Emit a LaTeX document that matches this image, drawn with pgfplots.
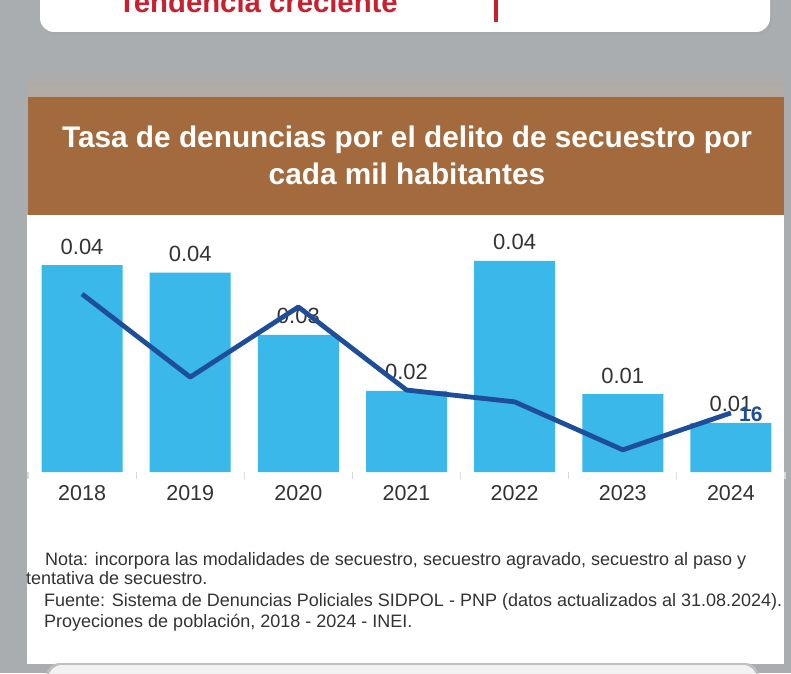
\documentclass[border=0pt]{standalone}
\usepackage{pgfplots}
\pgfplotsset{compat=1.18}
\usepackage{fontspec}
\setmainfont{Liberation Sans}
\definecolor{bggrey}{RGB}{169,173,176}
\definecolor{hdrbrown}{RGB}{162,106,61}
\definecolor{barblue}{RGB}{58,184,234}
\definecolor{lineblue}{RGB}{30,78,154}
\definecolor{txt}{RGB}{51,51,51}
\definecolor{redtxt}{RGB}{200,32,46}
\begin{document}
\begin{tikzpicture}[x=1pt,y=1pt]
\path[use as bounding box] (0,0) rectangle (791,673);
\clip (0,0) rectangle (791,673);
% background
\fill[bggrey] (0,0) rectangle (791,673);
\shade[top color=bggrey, bottom color={rgb,255:red,182;green,170;blue,163}] (28,576) rectangle (784,606);
% top card
\fill[black!35, opacity=0.5, rounded corners=14pt] (42,638) rectangle (772,700);
\fill[white, rounded corners=14pt] (40,641) rectangle (770,700);
\node[anchor=base west, inner sep=0, font=\fontsize{29.3}{29.3}\selectfont\bfseries, text=redtxt] at (118,660) {Tendencia creciente};
\fill[redtxt] (494,651) rectangle (498,673);
% header
\fill[hdrbrown] (28,458) rectangle (784,576);
\node[anchor=base, inner sep=0, font=\fontsize{29.8}{29.8}\selectfont\bfseries, text=white] at (407,525) {Tasa de denuncias por el delito de secuestro por};
\node[anchor=base, inner sep=0, font=\fontsize{29.8}{29.8}\selectfont\bfseries, text=white] at (407,488) {cada mil habitantes};
% panel
\fill[white] (27,9) rectangle (784,458);
% bottom card
\fill[black!25, rounded corners=14pt] (46,-30) rectangle (759,10);
\fill[black!5, rounded corners=14pt] (48,-30) rectangle (757,8);
% notes
\node[anchor=base west, inner sep=0, font=\fontsize{18}{18}\selectfont, text=txt] at (45,108) {Nota: incorpora las modalidades de secuestro, secuestro agravado, secuestro al paso y};
\node[anchor=base west, inner sep=0, font=\fontsize{18}{18}\selectfont, text=txt] at (26,89) {tentativa de secuestro.};
\node[anchor=base west, inner sep=0, font=\fontsize{18}{18}\selectfont, text=txt] at (44,66.5) {Fuente: Sistema de Denuncias Policiales SIDPOL - PNP (datos actualizados al 31.08.2024).};
\node[anchor=base west, inner sep=0, font=\fontsize{18}{18}\selectfont, text=txt] at (44,46) {Proyeciones de población, 2018 - 2024 - INEI.};
% bars
\begin{axis}[
  at={(28pt,201pt)}, anchor=south west,
  width=757pt, height=240pt, scale only axis,
  xmin=-0.5, xmax=6.5, ymin=0, ymax=0.045,
  axis x line*=bottom, axis y line=none,
  axis line style={draw=none},
  xtick={0,...,6}, xticklabels={2018,2019,2020,2021,2022,2023,2024},
  major tick length=0pt,
  extra x ticks={-0.5,0.5,...,6.5}, extra x tick labels={},
  extra x tick style={major tick length=7pt, tick align=outside, tick style={draw=black!15, line width=1.2pt}},
  xticklabel style={font=\fontsize{21.5}{21.5}\selectfont, text=txt, anchor=base, yshift=-28pt},
  clip=false,
]
\addplot[ybar, bar width=81pt, fill=barblue, draw=none,
  nodes near coords, point meta=explicit symbolic,
  every node near coord/.append style={anchor=base, inner sep=0pt, yshift=11pt, font=\fontsize{22}{22}\selectfont, text=txt}]
  coordinates {(0,0.0388)[0.04] (1,0.0374)[0.04] (2,0.0257)[0.03] (3,0.0152)[0.02] (4,0.0396)[0.04] (5,0.0146)[0.01] (6,0.0092)[0.01]};
\end{axis}
% line
\begin{axis}[
  at={(28pt,201pt)}, anchor=south west,
  width=757pt, height=240pt, scale only axis,
  xmin=-0.5, xmax=6.5, ymin=0, ymax=65,
  hide axis, clip=false,
]
\addplot[lineblue, line width=4.8pt, line join=round, mark=none]
  coordinates {(0,48.2) (1,25.7) (2,44.7) (3,22.2) (4,19.0) (5,6.0) (6,16)};
\node[anchor=west, inner sep=0pt, xshift=8pt, yshift=-1pt, font=\fontsize{21}{21}\selectfont\bfseries, text=lineblue] at (axis cs:6,16) {16};
\end{axis}
\end{tikzpicture}
\end{document}
